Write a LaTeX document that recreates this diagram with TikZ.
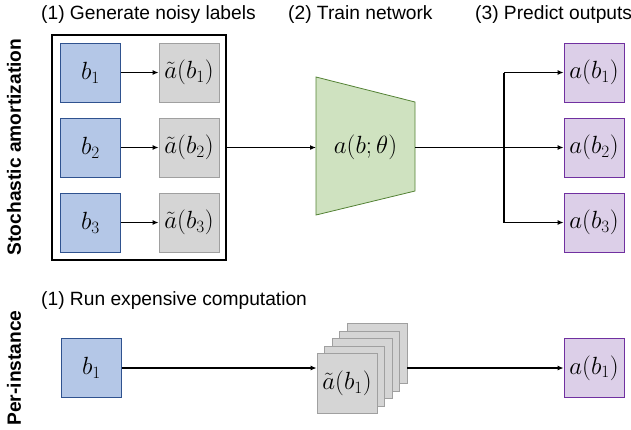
\documentclass[tikz,border=0pt]{standalone}
\usepackage{fontspec}
\setmainfont{Liberation Sans}
\usetikzlibrary{arrows.meta}

\definecolor{inblue}{HTML}{B4C7E7}
\definecolor{inblueline}{HTML}{2F528F}
\definecolor{noisegray}{HTML}{D5D5D5}
\definecolor{noisegrayline}{HTML}{A0A0A0}
\definecolor{netgreen}{HTML}{CFE2C0}
\definecolor{netgreenline}{HTML}{548235}
\definecolor{outpurple}{HTML}{DCCFE8}
\definecolor{outpurpleline}{HTML}{7030A0}

\tikzset{
  mathsize/.style={font=\fontsize{24}{28}\selectfont},
  cell/.style={minimum width=60pt, minimum height=59pt, inner sep=0pt, line width=0.8pt, mathsize},
  inbox/.style={cell, draw=inblueline, fill=inblue},
  noisebox/.style={cell, draw=noisegrayline, fill=noisegray},
  outbox/.style={cell, draw=outpurpleline, fill=outpurple},
  heading/.style={font=\fontsize{19.2}{23}\selectfont, anchor=west, inner sep=0pt},
  sidelabel/.style={font=\fontsize{19.2}{23}\selectfont\bfseries, rotate=90, inner sep=0pt},
  wire/.style={line width=1.2pt},
  flow/.style={wire, -{Latex[length=6pt,width=5pt]}},
}

\begin{document}
\begin{tikzpicture}[x=1pt, y=-1pt]
  \useasboundingbox (0,0) rectangle (631,429);

  % headings
  \node[heading] (h1) at (41,15) {(1) Generate noisy labels};
  \node[heading] (h2) at (288,15) {(2) Train network};
  \node[heading] (h3) at (475,15) {(3) Predict outputs};
  \node[heading] (h4) at (41,301) {(1) Run expensive computation};

  % row labels
  \node[sidelabel] (lsa) at (14,147) {Stochastic amortization};
  \node[sidelabel] (lpi) at (14,368) {Per-instance};

  % frame around the label generation step
  \node[draw=black, line width=1.1pt, minimum width=174pt, minimum height=225pt, inner sep=0pt]
    (frame) at (139,147.5) {};

  % inputs and noisy labels
  \foreach \i/\y in {1/72.5, 2/147.5, 3/222.5} {
    \node[inbox] (b\i) at (90.5,\y) {$b_{\i}$};
    \node[noisebox] (n\i) at (189,\y) {$\tilde{a}(b_{\i})$};
    \draw[flow] (b\i) -- (n\i);
  }

  % network
  \draw[draw=netgreenline, fill=netgreen, line width=0.8pt]
    (316,77) -- (415,102) -- (415,191) -- (316,215) -- cycle;
  \node[mathsize] (net) at (365.5,147) {$a(b;\theta)$};
  \coordinate (netin) at (316,147.5);
  \coordinate (netout) at (415,147.5);
  \draw[flow] (frame.east |- netin) -- (netin);

  % outputs
  \coordinate (split) at (504,147.5);
  \foreach \i/\y in {1/72.5, 2/147.5, 3/222.5} {
    \node[outbox] (o\i) at (594,\y) {$a(b_{\i})$};
  }
  \draw[wire] (netout) -- (split);
  \draw[flow] (split |- o1) -- (o1);
  \draw[flow] (split) -- (o2);
  \draw[flow] (split |- o3) -- (o3);
  \draw[wire] (split |- o1) -- (split |- o3);

  % per-instance row
  \node[inbox] (pb) at (91.5,368) {$b_1$};
  \foreach \k in {4,3,2,1} {
    \node[noisebox, minimum height=60pt] (s\k) at (347+7.5*\k,383.5-7.5*\k) {};
  }
  \node[noisebox, minimum height=60pt] (s0) at (347,383.5) {$\tilde{a}(b_1)$};
  \node[outbox] (po) at (594,368) {$a(b_1)$};
  \draw[flow] (pb) -- (pb -| s0.west);
  \draw[flow] (pb -| s4.east) -- (po);
\end{tikzpicture}
\end{document}
